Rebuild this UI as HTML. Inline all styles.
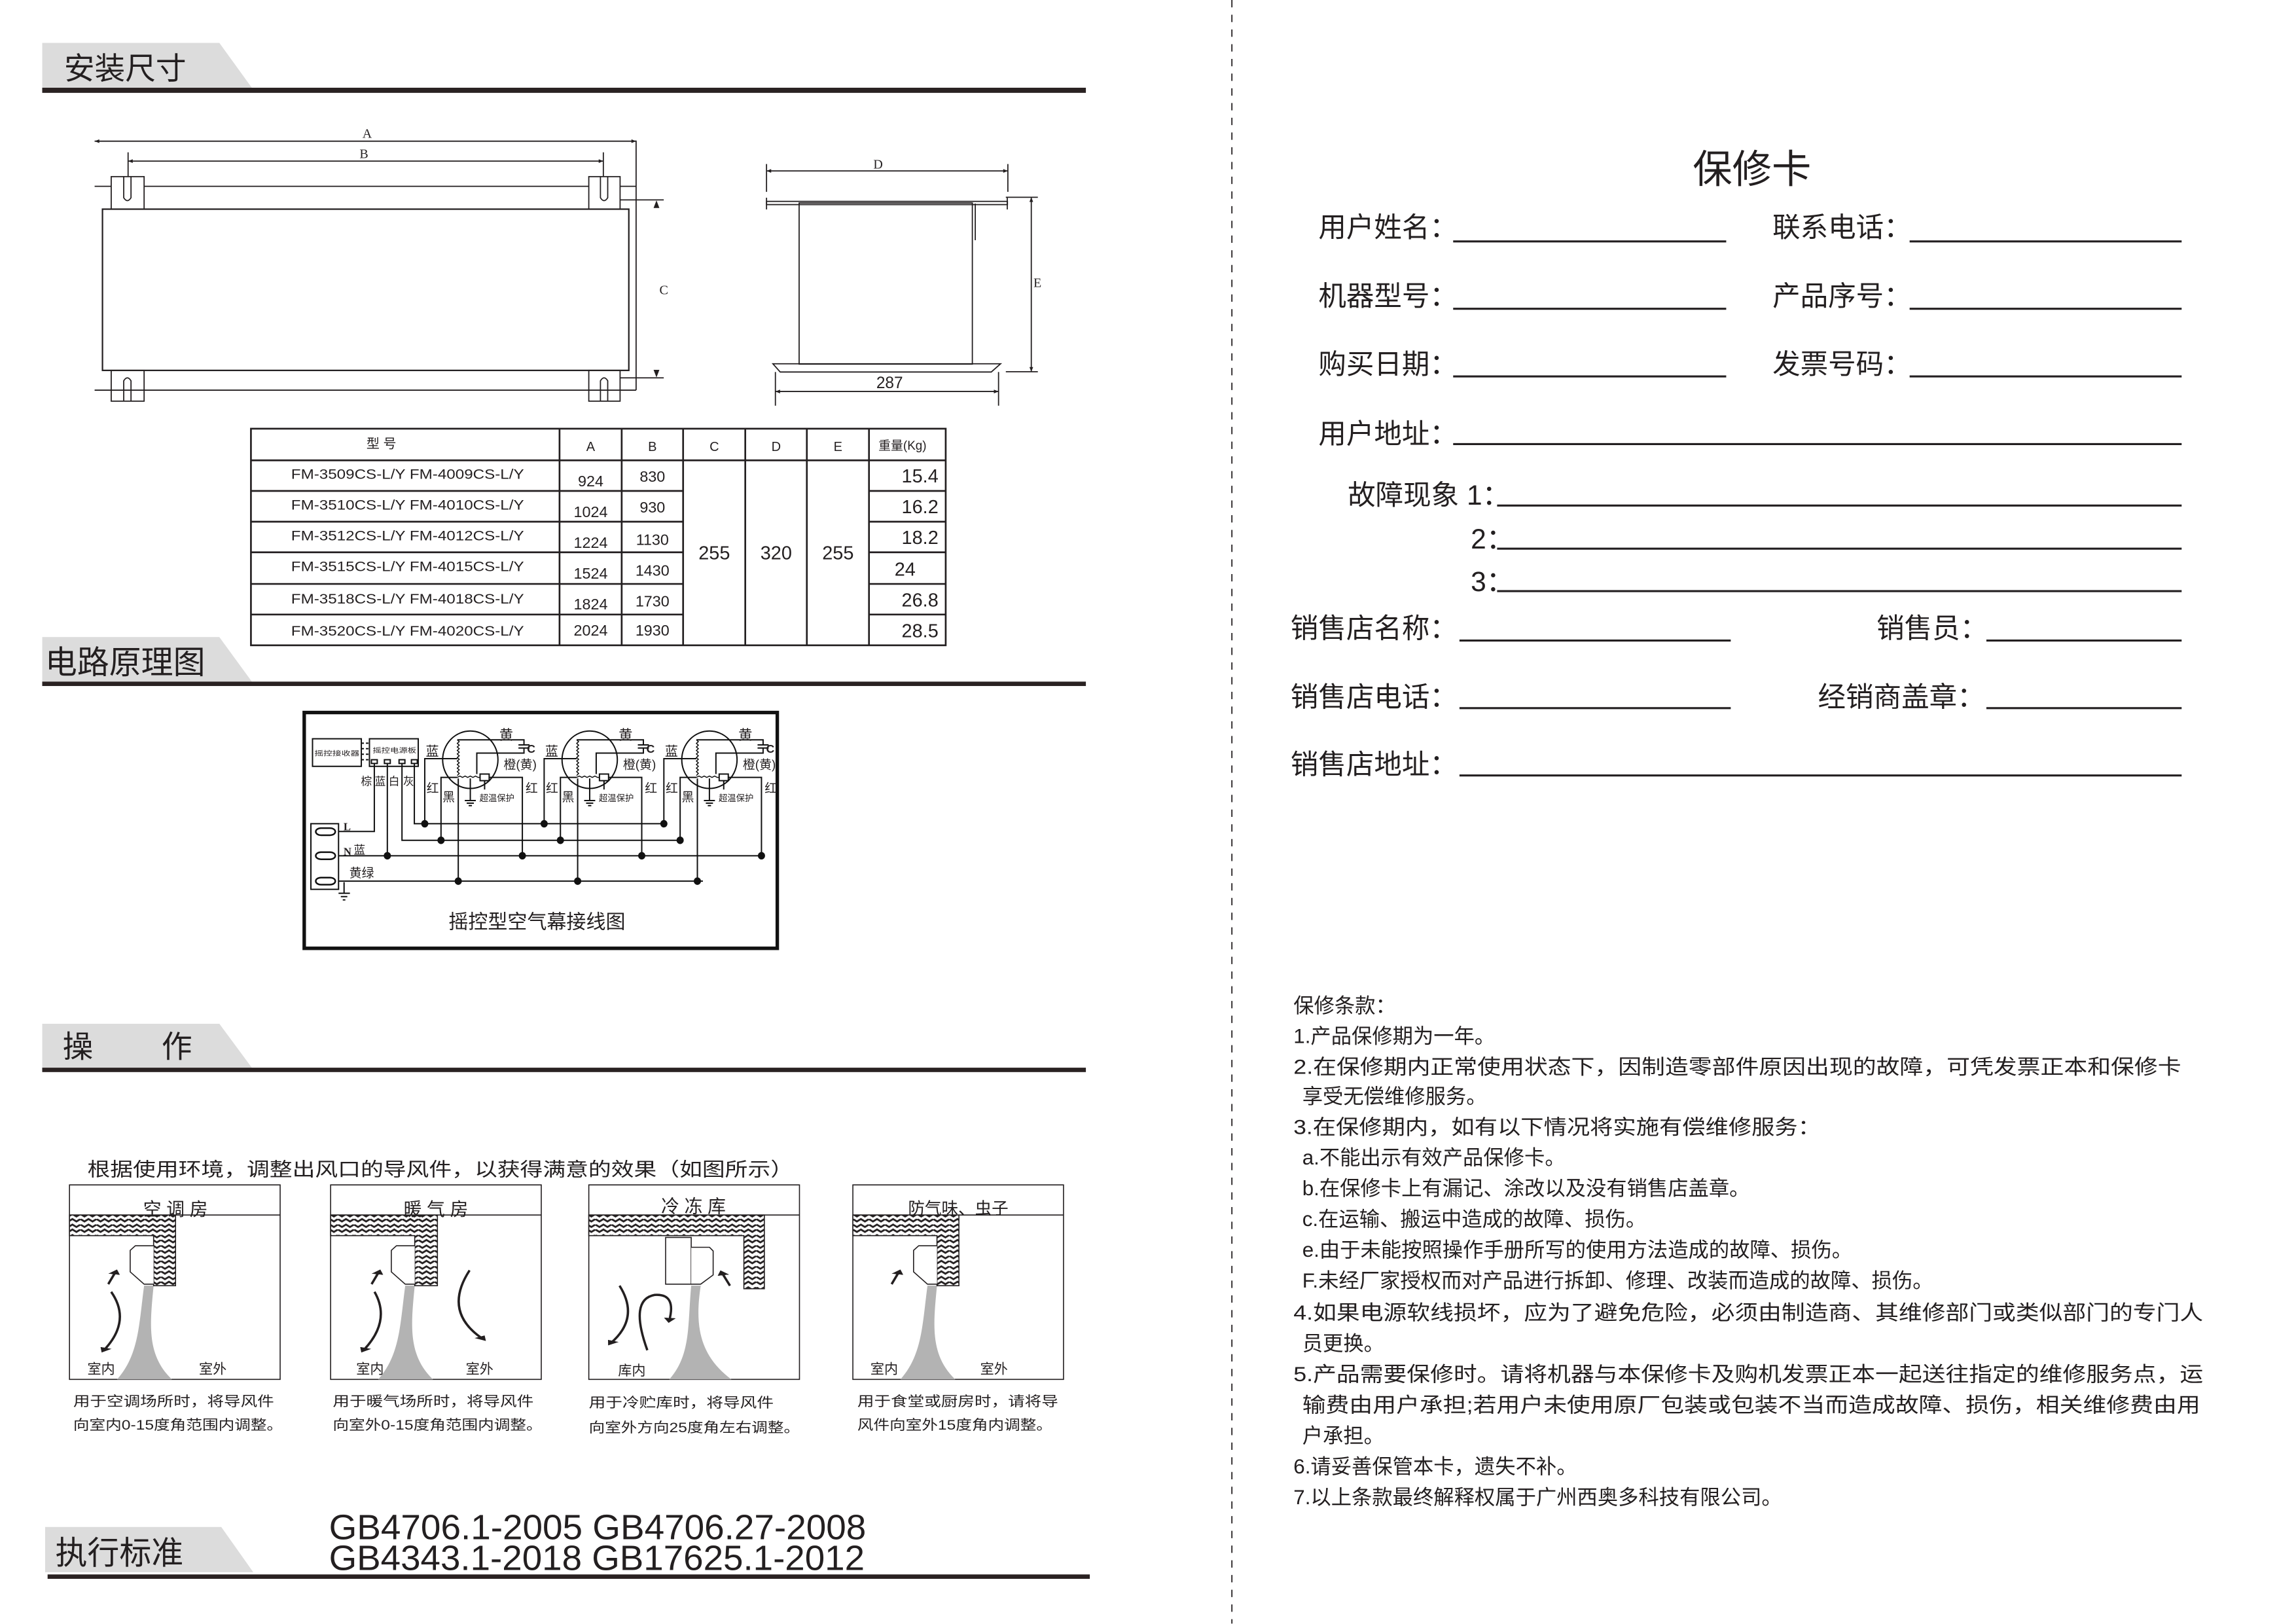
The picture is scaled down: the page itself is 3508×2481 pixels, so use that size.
<!DOCTYPE html>
<html><head><meta charset="utf-8"><style>
html,body{margin:0;padding:0;background:#fff;}
svg{display:block;}
text{font-family:"Liberation Sans","Noto Sans CJK SC",sans-serif;fill:#231f20;}
.sf{font-family:"Liberation Serif","Noto Serif CJK SC",serif;}
</style></head><body>
<svg width="3508" height="2481" viewBox="0 0 1560 1103.3" preserveAspectRatio="none" xmlns="http://www.w3.org/2000/svg">
<defs>
<pattern id="hatch" patternUnits="userSpaceOnUse" width="22" height="34">
<rect width="22" height="34" fill="#fff"/>
<polyline points="0,4 5.5,12 11,4 16.5,12 22,4" fill="none" stroke="#231f20" stroke-width="4"/>
<polyline points="0,20 5.5,28 11,20 16.5,28 22,20" fill="none" stroke="#231f20" stroke-width="4"/>
</pattern>
<marker id="ah" viewBox="0 0 10 10" refX="5" refY="5" markerWidth="4" markerHeight="4" orient="auto"><path d="M0,0 L10,5 L0,10 Z" fill="#231f20"/></marker>
<marker id="dm" viewBox="0 0 10 10" refX="10" refY="5" markerWidth="6" markerHeight="4" orient="auto-start-reverse"><path d="M0,1 L10,5 L0,9 Z" fill="#231f20"/></marker>
</defs>
<rect width="1560" height="1103.3" fill="#fff"/>

<g transform="scale(0.989,0.995)">
<!-- Headers -->
<g fill="#dcdcdc">
<polygon points="29,29.3 150.7,29.3 173,59.9 29,59.9"/>
<polygon points="29,435 150.7,435 173,465.4 29,465.4"/>
<polygon points="29,699 150.7,699 173,729 29,729"/>
<polygon points="31,1042.6 152,1042.6 174,1073.5 31,1073.5"/>
</g>
<g fill="#2a2222">
<rect x="29" y="59.9" width="717" height="3.5"/>
<rect x="29" y="465.4" width="717" height="3"/>
<rect x="29" y="729" width="717" height="3"/>
<rect x="32.7" y="1075" width="716" height="3"/>
</g>
<text x="44" y="54" font-size="21">安装尺寸</text>
<text x="31" y="460" font-size="22">电路原理图</text>
<text x="43" y="722" font-size="21">操</text>
<text x="111" y="722" font-size="21">作</text>
<text x="38" y="1068" font-size="22">执行标准</text>

<!-- Front view -->
<g stroke="#231f20" stroke-width="0.8" fill="none">
<line x1="65" y1="96.4" x2="437" y2="96.4" marker-start="url(#dm)" marker-end="url(#dm)"/>
<line x1="88" y1="110" x2="414.5" y2="110" marker-start="url(#dm)" marker-end="url(#dm)"/>
<line x1="88" y1="104" x2="88" y2="125"/>
<line x1="414.5" y1="104" x2="414.5" y2="125"/>
<line x1="437" y1="96" x2="437" y2="266.4"/>
<line x1="65" y1="127.2" x2="437" y2="127.2"/>
<line x1="65" y1="266.4" x2="437" y2="266.4"/>
<rect x="76.4" y="120.6" width="22.6" height="22.2" fill="#fff"/>
<rect x="404.5" y="120.6" width="21.5" height="22.2" fill="#fff"/>
<path d="M85,120.6 V135 Q87.5,139 90,135 V120.6"/>
<path d="M412.5,120.6 V135 Q415,139 417.5,135 V120.6"/>
<rect x="70.4" y="142.8" width="361.6" height="110.1" fill="#fff" stroke-width="1"/>
<rect x="76.4" y="252.9" width="22.6" height="21"/>
<rect x="404.5" y="252.9" width="21.5" height="21"/>
<path d="M85,273.9 V260 Q87.5,256 90,260 V273.9"/>
<path d="M412.5,273.9 V260 Q415,256 417.5,260 V273.9"/>
<line x1="426" y1="136.5" x2="456" y2="136.5"/>
<line x1="426" y1="258" x2="456" y2="258"/>
</g>
<polygon points="449,142 453,142 451,136.8" fill="#231f20"/>
<polygon points="449,252.5 453,252.5 451,257.7" fill="#231f20"/>
<text class="sf" x="249" y="94" font-size="9">A</text>
<text class="sf" x="247" y="108" font-size="9">B</text>
<text class="sf" x="453" y="201" font-size="9">C</text>

<!-- Side view -->
<g stroke="#231f20" stroke-width="0.8" fill="none">
<line x1="526.6" y1="116.7" x2="692.4" y2="116.7" marker-start="url(#dm)" marker-end="url(#dm)"/>
<line x1="526.6" y1="112" x2="526.6" y2="131"/>
<line x1="692.4" y1="112" x2="692.4" y2="131"/>
<rect x="526.6" y="137.5" width="165.5" height="2.2"/>
<line x1="526.6" y1="135" x2="526.6" y2="143"/>
<line x1="692" y1="135" x2="692" y2="143"/>
<rect x="549" y="138.6" width="119" height="110"/>
<line x1="670" y1="139" x2="670" y2="164"/>
<polygon points="531,248.4 687.4,248.4 681,254 536,254"/>
<line x1="532.7" y1="267.3" x2="686" y2="267.3" marker-start="url(#dm)" marker-end="url(#dm)"/>
<line x1="532.7" y1="254" x2="532.7" y2="277"/>
<line x1="686" y1="254" x2="686" y2="277"/>
<line x1="708.5" y1="134.7" x2="708.5" y2="253.8" marker-start="url(#dm)" marker-end="url(#dm)"/>
<line x1="691" y1="134.7" x2="713" y2="134.7"/>
<line x1="691" y1="253.8" x2="713" y2="253.8"/>
</g>
<text class="sf" x="600" y="115" font-size="9">D</text>
<text x="602" y="265" font-size="11">287</text>
<text class="sf" x="710" y="196" font-size="9">E</text>

<!-- Table -->
<g stroke="#231f20" stroke-width="1.2" fill="none">
<rect x="172.4" y="292.7" width="477.3" height="147.9"/>
<line x1="384.4" y1="292.7" x2="384.4" y2="440.6"/>
<line x1="427.1" y1="292.7" x2="427.1" y2="440.6"/>
<line x1="469.3" y1="292.7" x2="469.3" y2="440.6"/>
<line x1="512" y1="292.7" x2="512" y2="440.6"/>
<line x1="554.3" y1="292.7" x2="554.3" y2="440.6"/>
<line x1="597" y1="292.7" x2="597" y2="440.6"/>
<line x1="172.4" y1="314.3" x2="649.7" y2="314.3"/>
<path d="M172.4,335.2 H469.3 M597,335.2 H649.7"/>
<path d="M172.4,356.2 H469.3 M597,356.2 H649.7"/>
<path d="M172.4,377.1 H469.3 M597,377.1 H649.7"/>
<path d="M172.4,398.7 H469.3 M597,398.7 H649.7"/>
<path d="M172.4,419.6 H469.3 M597,419.6 H649.7"/>
</g>
<g font-size="9" text-anchor="middle">
<text x="262" y="306">型 号</text>
<text x="405.8" y="308">A</text><text x="448.2" y="308">B</text><text x="490.7" y="308">C</text><text x="533.2" y="308">D</text><text x="575.7" y="308">E</text>
<text x="620" y="307" font-size="8.5">重量(Kg)</text>
</g>
<g font-size="9.5">
<text x="200" y="327" textLength="160" lengthAdjust="spacingAndGlyphs">FM-3509CS-L/Y  FM-4009CS-L/Y</text>
<text x="200" y="348" textLength="160" lengthAdjust="spacingAndGlyphs">FM-3510CS-L/Y  FM-4010CS-L/Y</text>
<text x="200" y="369" textLength="160" lengthAdjust="spacingAndGlyphs">FM-3512CS-L/Y  FM-4012CS-L/Y</text>
<text x="200" y="390" textLength="160" lengthAdjust="spacingAndGlyphs">FM-3515CS-L/Y  FM-4015CS-L/Y</text>
<text x="200" y="412" textLength="160" lengthAdjust="spacingAndGlyphs">FM-3518CS-L/Y  FM-4018CS-L/Y</text>
<text x="200" y="434" textLength="160" lengthAdjust="spacingAndGlyphs">FM-3520CS-L/Y  FM-4020CS-L/Y</text>
</g>
<g font-size="10.5" text-anchor="middle">
<text x="405.8" y="332">924</text><text x="448.2" y="329">830</text>
<text x="405.8" y="353">1024</text><text x="448.2" y="350">930</text>
<text x="405.8" y="374">1224</text><text x="448.2" y="372">1130</text>
<text x="405.8" y="395">1524</text><text x="448.2" y="393">1430</text>
<text x="405.8" y="416">1824</text><text x="448.2" y="414">1730</text>
<text x="405.8" y="434">2024</text><text x="448.2" y="434">1930</text>
</g>
<g font-size="13" text-anchor="middle">
<text x="490.7" y="382">255</text><text x="533.2" y="382">320</text><text x="575.7" y="382">255</text>
</g>
<g font-size="13" text-anchor="end">
<text x="644.7" y="329.5">15.4</text>
<text x="644.7" y="350.5">16.2</text>
<text x="644.7" y="371.5">18.2</text>
<text x="629" y="393">24</text>
<text x="644.7" y="414">26.8</text>
<text x="644.7" y="435">28.5</text>
</g>

<!-- Circuit -->
<rect x="209" y="486.5" width="325" height="161" fill="none" stroke="#111" stroke-width="2.4"/>
<g transform="translate(195.7,480.3) scale(0.2235,0.1507)" stroke="#111" fill="none">
<g stroke-width="2">
<rect x="85" y="160" width="150" height="125" vector-effect="non-scaling-stroke"/>
<rect x="260" y="160" width="150" height="125" vector-effect="non-scaling-stroke"/>
<path d="M235,180 H260 M235,205 H260 M235,230 H260 M235,255 H260" vector-effect="non-scaling-stroke" stroke-dasharray="4 3"/>
<rect x="266" y="255" width="18" height="17" vector-effect="non-scaling-stroke"/>
<rect x="306" y="255" width="18" height="17" vector-effect="non-scaling-stroke"/>
<rect x="351" y="255" width="18" height="17" vector-effect="non-scaling-stroke"/>
<rect x="389" y="255" width="18" height="17" vector-effect="non-scaling-stroke"/>
<path d="M275,272 V580 H165 M315,272 V690 M360,272 V620 H1215 M398,272 V545 H1165 M165,690 H1465 M165,805 H1285" vector-effect="non-scaling-stroke"/>
<rect x="80" y="545" width="85" height="297" vector-effect="non-scaling-stroke"/>
<path d="M182,810 V860 M165,860 H200 M172,875 H192 M178,890 H186" vector-effect="non-scaling-stroke"/>
</g>
<g fill="#fff" stroke-width="2.5">
<rect x="95" y="565" width="60" height="32" rx="16" vector-effect="non-scaling-stroke"/>
<rect x="95" y="674" width="60" height="32" rx="16" vector-effect="non-scaling-stroke"/>
<rect x="95" y="789" width="60" height="32" rx="16" vector-effect="non-scaling-stroke"/>
</g>
<g fill="#111" stroke="none">
<ellipse cx="315" cy="690" rx="11" ry="17"/>
</g>
<g id="motor">
<ellipse cx="570" cy="255" rx="85" ry="130" vector-effect="non-scaling-stroke" stroke-width="2"/>
<path d="M430,545 V250 H530 M530,165 H735 V188 M718,188 H752 M718,202 H752 M735,202 V225 H590 V320 M628,335 H730 V690 M480,620 V335 H530 M533,805 V340 M570,340 V440 M553,440 H587 M559,452 H581 M565,463 H575 M614,350 V390" vector-effect="non-scaling-stroke" stroke-width="2"/>
<path d="M530,165 l6,8 l-6,8 l6,8 l-6,8 l6,8 l-6,8 l6,8 l-6,8 l6,8 l-6,8 l6,8 l-6,8 l6,8 l-6,8 l6,8 l-6,8 l6,8 l-6,8 l6,8 l-6,10 M530,335 l8,-6 l8,6 l8,-6 l8,6 l8,-6 l8,6 l8,-6 l8,6 l6,0" vector-effect="non-scaling-stroke" stroke-width="1.5"/>
<rect x="600" y="320" width="28" height="30" fill="#fff" vector-effect="non-scaling-stroke" stroke-width="2"/>
<g fill="#111" stroke="none">
<ellipse cx="430" cy="545" rx="11" ry="17"/><ellipse cx="480" cy="620" rx="11" ry="17"/><ellipse cx="730" cy="690" rx="11" ry="17"/><ellipse cx="533" cy="805" rx="11" ry="17"/>
</g>
</g>
<use href="#motor" transform="translate(367,0)"/>
<use href="#motor" transform="translate(735,0)"/>
</g>
<g font-size="4.6">
<text x="216" y="516" textLength="31" lengthAdjust="spacingAndGlyphs">摇控接收器</text>
<text x="256" y="514" textLength="30" lengthAdjust="spacingAndGlyphs">摇控电源板</text>
</g>
<g font-size="7.5">
<text x="248" y="536">棕</text><text x="257.5" y="536">蓝</text><text x="267" y="536">白</text><text x="277" y="536">灰</text>
<text x="243" y="583" font-size="8">蓝</text>
<text x="240" y="599" font-size="8.5">黄绿</text>
</g>
<text class="sf" x="236" y="567" font-size="7.5" font-weight="bold">L</text>
<text class="sf" x="236" y="584" font-size="7.5" font-weight="bold">N</text>
<g id="mlab">
<text x="343" y="505" font-size="9.5">黄</text>
<text x="362" y="514" font-size="8" font-weight="bold">C</text>
<text x="292.5" y="516" font-size="9">蓝</text>
<text x="346" y="525" font-size="8.5">橙(黄)</text>
<text x="293" y="541" font-size="8.5">红</text>
<text x="361" y="541" font-size="8.5">红</text>
<text x="304" y="547" font-size="8.5">黑</text>
<text x="329.4" y="547" font-size="6">超温保护</text>
</g>
<use href="#mlab" transform="translate(82,0)"/>
<use href="#mlab" transform="translate(164.3,0)"/>
<text x="368.9" y="634" font-size="13.5" text-anchor="middle">摇控型空气幕接线图</text>

<!-- Operation -->
<text x="60" y="803" font-size="13" textLength="485" lengthAdjust="spacingAndGlyphs">根据使用环境，调整出风口的导风件，以获得满意的效果（如图所示）</text>
<g transform="translate(0,778.2) scale(0.5025,0.2098)">
<g stroke="#231f20" stroke-width="1.6" fill="none">
<rect x="95" y="147" width="288" height="633" vector-effect="non-scaling-stroke"/>
<rect x="452" y="147" width="288" height="633" vector-effect="non-scaling-stroke"/>
<rect x="805" y="147" width="288" height="633" vector-effect="non-scaling-stroke"/>
<rect x="1166" y="147" width="288" height="633" vector-effect="non-scaling-stroke"/>
<path d="M95,245 H383 M452,245 H740 M805,245 H1093 M1166,245 H1454" vector-effect="non-scaling-stroke"/>
</g>
<g fill="#b3b3b3">
<path d="M197,475 L210,475 C205,600 200,700 235,780 L160,780 C190,700 190,600 197,475 Z"/>
<path d="M554,475 L567,475 C562,600 557,700 592,780 L517,780 C547,700 547,600 554,475 Z"/>
<path d="M945,475 L958,475 C950,600 955,700 1000,780 L915,780 C945,700 940,600 945,475 Z"/>
<path d="M1268,475 L1281,475 C1276,600 1271,700 1306,780 L1231,780 C1261,700 1261,600 1268,475 Z"/>
</g>
<g fill="url(#hatch)" stroke="#231f20" stroke-width="1.6">
<path d="M95,245 H240 V475 H210 V312 H95 Z" vector-effect="non-scaling-stroke"/>
<path d="M452,245 H598 V475 H567 V312 H452 Z" vector-effect="non-scaling-stroke"/>
<path d="M805,245 H1045 V485 H1017 V312 H805 Z" vector-effect="non-scaling-stroke"/>
<path d="M1166,245 H1311 V475 H1281 V312 H1166 Z" vector-effect="non-scaling-stroke"/>
</g>
<g fill="#fff" stroke="#231f20" stroke-width="1.6">
<path d="M210,345 H185 L178,360 V430 L197,470 H210" vector-effect="non-scaling-stroke"/>
<path d="M567,345 H542 L535,360 V430 L554,470 H567" vector-effect="non-scaling-stroke"/>
<rect x="910" y="318" width="35" height="152" vector-effect="non-scaling-stroke"/>
<path d="M945,350 H970 L975,362 V440 L958,470 H945" vector-effect="non-scaling-stroke"/>
<path d="M1281,345 H1256 L1249,360 V430 L1268,470 H1281" vector-effect="non-scaling-stroke"/>
</g>
<g stroke="#231f20" fill="none" stroke-width="3.5">
<path d="M148,470 L158,430" marker-end="url(#ah)" vector-effect="non-scaling-stroke"/>
<path d="M152,495 Q180,590 142,685" marker-end="url(#ah)" vector-effect="non-scaling-stroke"/>
<path d="M508,470 L518,430" marker-end="url(#ah)" vector-effect="non-scaling-stroke"/>
<path d="M512,495 Q535,590 497,685" marker-end="url(#ah)" vector-effect="non-scaling-stroke"/>
<path d="M642,425 Q605,560 660,648" marker-end="url(#ah)" vector-effect="non-scaling-stroke"/>
<path d="M847,475 Q875,580 835,662" marker-end="url(#ah)" vector-effect="non-scaling-stroke"/>
<path d="M885,685 Q860,520 895,505 Q925,500 915,588" marker-end="url(#ah)" vector-effect="non-scaling-stroke"/>
<path d="M998,475 L987,433" marker-end="url(#ah)" vector-effect="non-scaling-stroke"/>
<path d="M1219,470 L1229,430" marker-end="url(#ah)" vector-effect="non-scaling-stroke"/>
</g>
</g>
<g font-size="12.5" text-anchor="middle">
<text x="120.6" y="830">空 调 房</text>
<text x="299.5" y="830">暖 气 房</text>
<text x="476.4" y="828">冷 冻 库</text>
<text x="658.3" y="829" font-size="11.5">防气味、虫子</text>
</g>
<g font-size="9.5">
<text x="60" y="938">室内</text><text x="136.7" y="938">室外</text>
<text x="244.7" y="938">室内</text><text x="320" y="938">室外</text>
<text x="424.6" y="939">库内</text>
<text x="598" y="938">室内</text><text x="673.4" y="938">室外</text>
</g>
<g font-size="9.5">
<text x="50.3" y="960" textLength="138" lengthAdjust="spacingAndGlyphs">用于空调场所时，将导风件</text>
<text x="50.3" y="976" textLength="144" lengthAdjust="spacingAndGlyphs">向室内0-15度角范围内调整。</text>
<text x="228.6" y="960" textLength="138" lengthAdjust="spacingAndGlyphs">用于暖气场所时，将导风件</text>
<text x="228.6" y="976" textLength="144" lengthAdjust="spacingAndGlyphs">向室外0-15度角范围内调整。</text>
<text x="404.5" y="961" textLength="127" lengthAdjust="spacingAndGlyphs">用于冷贮库时，将导风件</text>
<text x="404.5" y="978" textLength="145" lengthAdjust="spacingAndGlyphs">向室外方向25度角左右调整。</text>
<text x="589" y="960" textLength="138" lengthAdjust="spacingAndGlyphs">用于食堂或厨房时，请将导</text>
<text x="589" y="976" textLength="134" lengthAdjust="spacingAndGlyphs">风件向室外15度角内调整。</text>
</g>
<g font-size="24" fill="#333">
<text x="226" y="1051" textLength="369" lengthAdjust="spacingAndGlyphs">GB4706.1-2005 GB4706.27-2008</text>
<text x="226" y="1072" textLength="368" lengthAdjust="spacingAndGlyphs">GB4343.1-2018 GB17625.1-2012</text>
</g>
</g>

<!-- Divider -->
<line x1="837" y1="0" x2="837" y2="1103" stroke="#231f20" stroke-width="0.8" stroke-dasharray="5 5"/>

<g transform="scale(0.9953,0.994)">
<!-- Warranty card -->
<text x="1196" y="125" font-size="27" text-anchor="middle">保修卡</text>
<g font-size="19">
<text x="900" y="162">用户姓名：</text>
<text x="1210" y="162">联系电话：</text>
<text x="900" y="209">机器型号：</text>
<text x="1210" y="209">产品序号：</text>
<text x="900" y="255.5">购买日期：</text>
<text x="1210" y="255.5">发票号码：</text>
<text x="900" y="303">用户地址：</text>
<text x="920" y="345">故障现象 1：</text>
<text x="1004" y="375">2：</text>
<text x="1004" y="404">3：</text>
<text x="881" y="436">销售店名称：</text>
<text x="1281" y="436">销售员：</text>
<text x="881" y="483">销售店电话：</text>
<text x="1241" y="483">经销商盖章：</text>
<text x="881" y="529">销售店地址：</text>
</g>
<g stroke="#231f20" stroke-width="1.4">
<line x1="992" y1="165" x2="1178.4" y2="165"/>
<line x1="1303.6" y1="165" x2="1489.3" y2="165"/>
<line x1="992" y1="211" x2="1178.4" y2="211"/>
<line x1="1303.6" y1="211" x2="1489.3" y2="211"/>
<line x1="992" y1="257.3" x2="1178.4" y2="257.3"/>
<line x1="1303.6" y1="257.3" x2="1489.3" y2="257.3"/>
<line x1="992" y1="303.5" x2="1489.3" y2="303.5"/>
<line x1="1022" y1="345.5" x2="1489.3" y2="345.5"/>
<line x1="1022" y1="375" x2="1489.3" y2="375"/>
<line x1="1022" y1="404" x2="1489.3" y2="404"/>
<line x1="996.3" y1="437.8" x2="1181.5" y2="437.8"/>
<line x1="1356" y1="437.8" x2="1489.3" y2="437.8"/>
<line x1="996.3" y1="484" x2="1181.5" y2="484"/>
<line x1="1356" y1="484" x2="1489.3" y2="484"/>
<line x1="996.3" y1="530" x2="1489.3" y2="530"/>
</g>
<g font-size="14">
<text x="883" y="692">保修条款：</text>
<text x="883" y="713">1.产品保修期为一年。</text>
<text x="883" y="734" textLength="606" lengthAdjust="spacingAndGlyphs">2.在保修期内正常使用状态下，因制造零部件原因出现的故障，可凭发票正本和保修卡</text>
<text x="889" y="754">享受无偿维修服务。</text>
<text x="883" y="775" textLength="360" lengthAdjust="spacingAndGlyphs">3.在保修期内，如有以下情况将实施有偿维修服务：</text>
<text x="889" y="796">a.不能出示有效产品保修卡。</text>
<text x="889" y="817">b.在保修卡上有漏记、涂改以及没有销售店盖章。</text>
<text x="889" y="838">c.在运输、搬运中造成的故障、损伤。</text>
<text x="889" y="859">e.由于未能按照操作手册所写的使用方法造成的故障、损伤。</text>
<text x="889" y="880">F.未经厂家授权而对产品进行拆卸、修理、改装而造成的故障、损伤。</text>
<text x="883" y="902" textLength="621" lengthAdjust="spacingAndGlyphs">4.如果电源软线损坏，应为了避免危险，必须由制造商、其维修部门或类似部门的专门人</text>
<text x="889" y="923">员更换。</text>
<text x="883" y="944" textLength="621" lengthAdjust="spacingAndGlyphs">5.产品需要保修时。请将机器与本保修卡及购机发票正本一起送往指定的维修服务点，运</text>
<text x="889" y="965" textLength="613" lengthAdjust="spacingAndGlyphs">输费由用户承担;若用户未使用原厂包装或包装不当而造成故障、损伤，相关维修费由用</text>
<text x="889" y="986">户承担。</text>
<text x="883" y="1007">6.请妥善保管本卡，遗失不补。</text>
<text x="883" y="1028">7.以上条款最终解释权属于广州西奥多科技有限公司。</text>
</g>
</g>
</svg>
</body></html>
